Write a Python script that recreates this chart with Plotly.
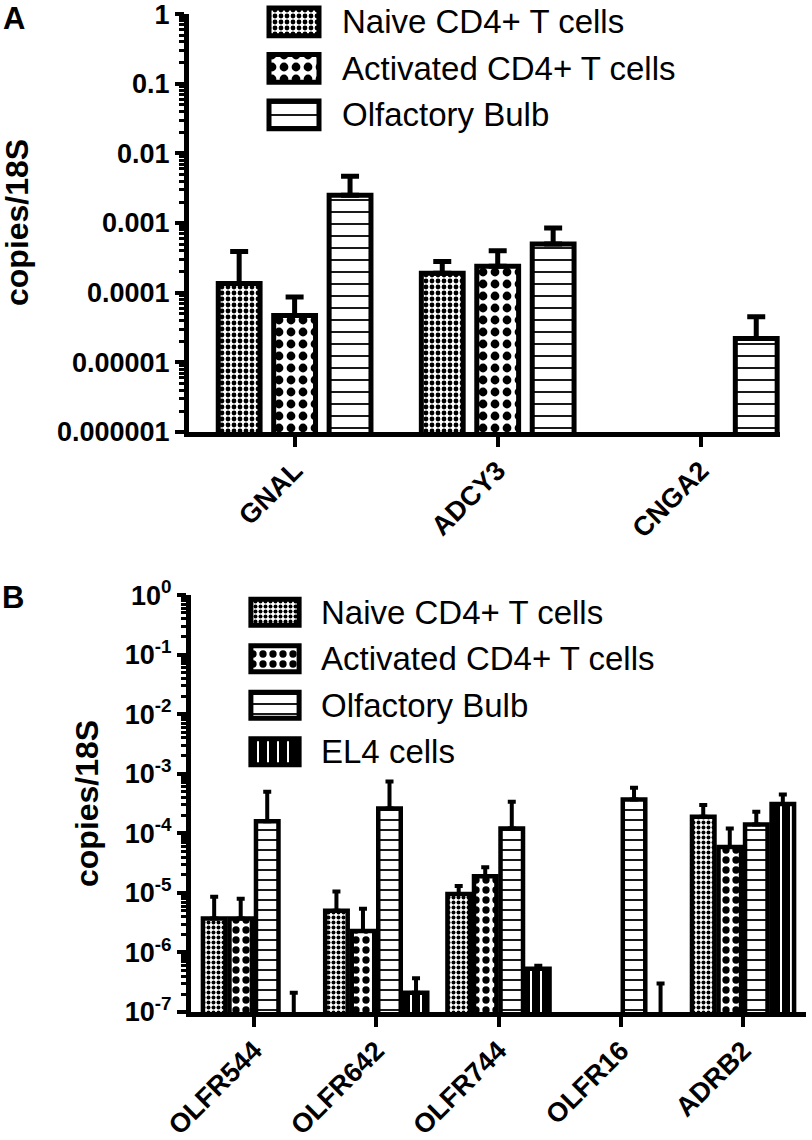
import plotly.graph_objects as go

# ---------------- data ----------------
series_a = ["Naive CD4+ T cells", "Activated CD4+ T cells", "Olfactory Bulb"]
series_b = ["Naive CD4+ T cells", "Activated CD4+ T cells", "Olfactory Bulb", "EL4 cells"]

genes_a = ["GNAL", "ADCY3", "CNGA2"]
naive_a = [1.35e-4, 1.9e-4, None]
naive_a_sd = [2.55e-4, 0.9e-4, None]
act_a = [4.7e-5, 2.4e-4, None]
act_a_sd = [4.0e-5, 1.6e-4, None]
ob_a = [2.5e-3, 5.0e-4, 2.2e-5]
ob_a_sd = [2.2e-3, 3.5e-4, 2.3e-5]

genes_b = ["OLFR544", "OLFR642", "OLFR744", "OLFR16", "ADRB2"]
naive_b = [3.7e-6, 5.0e-6, 9.6e-6, None, 1.9e-4]
naive_b_sd = [4.9e-6, 5.5e-6, 3.4e-6, None, 1.1e-4]
act_b = [3.7e-6, 2.3e-6, 1.9e-5, None, 5.9e-5]
act_b_sd = [4.3e-6, 3.1e-6, 8.0e-6, None, 6.1e-5]
ob_b = [1.6e-4, 2.6e-4, 1.2e-4, 3.7e-4, 1.4e-4]
ob_b_sd = [3.4e-4, 4.8e-4, 2.2e-4, 2.1e-4, 0.9e-4]
el4_b = [6.0e-8, 2.1e-7, 5.3e-7, 6.0e-8, 3.1e-4]
el4_b_sd = [1.5e-7, 1.6e-7, 0.7e-7, 2.4e-7, 1.4e-4]

yticks_a_vals = [1e-6, 1e-5, 1e-4, 1e-3, 1e-2, 1e-1, 1]
yticks_a_text = ["0.000001", "0.00001", "0.0001", "0.001", "0.01", "0.1", "1"]
yticks_b_vals = [1e-7, 1e-6, 1e-5, 1e-4, 1e-3, 1e-2, 1e-1, 1]
yticks_b_text = ["10<sup>-7</sup>", "10<sup>-6</sup>", "10<sup>-5</sup>", "10<sup>-4</sup>",
                 "10<sup>-3</sup>", "10<sup>-2</sup>", "10<sup>-1</sup>", "10<sup>0</sup>"]

# ---------------- style ----------------
W, H = 812, 1140
FONT = "Liberation Sans, Arial, Helvetica, sans-serif"


def px(p):
    return p / W


def py(p):
    return 1 - p / H


def pat(shape, size, solidity):
    return dict(shape=shape, size=size, solidity=solidity, fgcolor="black",
                bgcolor="white", fillmode="replace")


pats_a = [pat(".", 6, 0.5), pat(".", 12, 0.42), pat("-", 12, 0.15)]
pats_b = [pat(".", 5, 0.5), pat(".", 10, 0.42), pat("-", 10, 0.18), pat("|", 10, 0.8)]

fig = go.Figure()

# Panel A bars
pitch_a, w_a = 0.273, 0.206
vals_a = [(naive_a, naive_a_sd), (act_a, act_a_sd), (ob_a, ob_a_sd)]
for i, (name, (v, sd)) in enumerate(zip(series_a, vals_a)):
    fig.add_trace(go.Bar(
        x=genes_a, y=v, name=name, showlegend=False,
        width=w_a, offset=(i - 1) * pitch_a - w_a / 2,
        marker=dict(color="white", line=dict(color="black", width=5), pattern=pats_a[i]),
        error_y=dict(type="data", array=sd, arrayminus=[0] * len(v), symmetric=False,
                     color="black", thickness=5, width=9),
        xaxis="x", yaxis="y"))

# Panel B bars
pitch_b, w_b = 0.217, 0.184
vals_b = [(naive_b, naive_b_sd), (act_b, act_b_sd), (ob_b, ob_b_sd), (el4_b, el4_b_sd)]
for i, (name, (v, sd)) in enumerate(zip(series_b, vals_b)):
    fig.add_trace(go.Bar(
        x=genes_b, y=v, name=name, showlegend=False,
        width=w_b, offset=(i - 1.5) * pitch_b - w_b / 2,
        marker=dict(color="white", line=dict(color="black", width=4.5), pattern=pats_b[i]),
        error_y=dict(type="data", array=sd, arrayminus=[0] * len(v), symmetric=False,
                     color="black", thickness=4, width=4),
        xaxis="x2", yaxis="y2"))

# Custom legends (swatches drawn as bars on hidden axes)
for name, p in zip(series_a, pats_a):
    fig.add_trace(go.Bar(
        y=[name], x=[1], orientation="h", width=0.6, showlegend=False,
        marker=dict(color="white", line=dict(color="black", width=5), pattern=p),
        xaxis="x3", yaxis="y3", hoverinfo="skip"))
for name, p in zip(series_b, pats_b):
    fig.add_trace(go.Bar(
        y=[name], x=[1], orientation="h", width=0.56, showlegend=False,
        marker=dict(color="white", line=dict(color="black", width=5), pattern=p),
        xaxis="x4", yaxis="y4", hoverinfo="skip"))

annotations = []
for name in series_a:
    annotations.append(dict(text=name, x=px(340), xref="paper", y=name, yref="y3",
                            xanchor="left", yanchor="middle", showarrow=False,
                            font=dict(size=33, color="black", family=FONT)))
for name in series_b:
    annotations.append(dict(text=name, x=px(319), xref="paper", y=name, yref="y4",
                            xanchor="left", yanchor="middle", showarrow=False,
                            font=dict(size=33, color="black", family=FONT)))

# Panel letters and y titles
annotations += [
    dict(text="<b>A</b>", x=px(14), y=py(18), xref="paper", yref="paper", showarrow=False,
         xanchor="center", yanchor="middle", font=dict(size=31, color="black", family=FONT)),
    dict(text="<b>B</b>", x=px(13), y=py(597), xref="paper", yref="paper", showarrow=False,
         xanchor="center", yanchor="middle", font=dict(size=31, color="black", family=FONT)),
    dict(text="<b>copies/18S</b>", x=px(17), y=py(223), xref="paper", yref="paper",
         textangle=-90, showarrow=False, xanchor="center", yanchor="middle",
         font=dict(size=32, color="black", family=FONT)),
    dict(text="<b>copies/18S</b>", x=px(87), y=py(804), xref="paper", yref="paper",
         textangle=-90, showarrow=False, xanchor="center", yanchor="middle",
         font=dict(size=32, color="black", family=FONT)),
]

minor_a = [k * 10.0 ** e for e in range(-6, 0) for k in range(2, 10)]
minor_b = [k * 10.0 ** e for e in range(-7, 0) for k in range(2, 10)]

xcommon = dict(type="category", showline=True, linewidth=5, linecolor="black",
               ticks="outside", ticklen=10, tickwidth=4, tickcolor="black",
               tickangle=-45, showgrid=False, zeroline=False, automargin=False,
               ticklabelstandoff=-3, ticklabeloverflow="allow",
               tickfont=dict(size=27, color="black", family=FONT, weight="bold"))
ycommon = dict(type="log", showline=True, linewidth=5, linecolor="black",
               ticks="outside", ticklen=9, tickwidth=4, tickcolor="black",
               showgrid=False, zeroline=False, tickmode="array", automargin=False,
               ticklabeloverflow="allow",
               tickfont=dict(size=27, color="black", family=FONT, weight="bold"))
hidden = dict(visible=False, automargin=False, showgrid=False, zeroline=False)

fig.update_layout(
    template="none",
    width=W, height=H, autosize=False, margin=dict(l=0, r=0, t=0, b=0, pad=0),
    paper_bgcolor="white", plot_bgcolor="white",
    barmode="overlay", showlegend=False,
    font=dict(family=FONT, color="black"),
    xaxis=dict(domain=[px(189), px(780)], range=[-0.52, 2.39], anchor="y", **xcommon),
    yaxis=dict(domain=[py(432), py(14)], range=[-6, 0.001], anchor="x",
               tickvals=yticks_a_vals, ticktext=yticks_a_text,
               minor=dict(tickmode="array", tickvals=minor_a, ticks="outside",
                          ticklen=5, tickwidth=2.5, tickcolor="black"),
               **ycommon),
    xaxis2=dict(domain=[px(191), px(806)], range=[-0.515, 4.515], anchor="y2", **xcommon),
    yaxis2=dict(domain=[py(1012), py(595)], range=[-7, 0.001], anchor="x2",
                tickvals=yticks_b_vals, ticktext=yticks_b_text,
                minor=dict(tickmode="array", tickvals=minor_b, ticks="outside",
                           ticklen=5, tickwidth=2.5, tickcolor="black"),
                **ycommon),
    xaxis3=dict(domain=[px(266), px(322)], range=[-0.06, 1.06], anchor="y3", **hidden),
    yaxis3=dict(domain=[py(139), py(1)], range=[2.52, -0.45], type="category",
                categoryorder="array", categoryarray=series_a, anchor="x3", **hidden),
    xaxis4=dict(domain=[px(248), px(302)], range=[-0.06, 1.06], anchor="y4", **hidden),
    yaxis4=dict(domain=[py(775), py(589)], range=[3.5, -0.5], type="category",
                categoryorder="array", categoryarray=series_b, anchor="x4", **hidden),
    annotations=annotations,
)

fig.write_html("out.html", config={"displayModeBar": False},
               post_script="document.body.style.margin='0px';")
